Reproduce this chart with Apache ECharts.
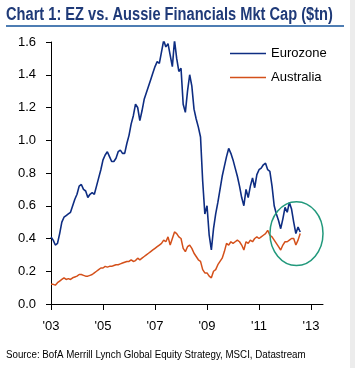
<!DOCTYPE html>
<html>
<head>
<meta charset="utf-8">
<script src="https://cdn.jsdelivr.net/npm/echarts@6/dist/echarts.min.js"></script>
<style>
html,body{margin:0;padding:0;background:#fff;}
#c{width:355px;height:368px;}
</style>
</head>
<body>
<div id="c"></div>
<script>
// Monthly values, Jan 2003 .. Aug 2012 ($tn)
const startYear = 2003;
const seriesNames = ['Eurozone', 'Australia'];
const eurozone = [
  0.41,0.39,0.36,0.37,0.43,0.50,0.53,0.54,0.55,0.56,0.60,0.64,
  0.67,0.72,0.73,0.70,0.69,0.65,0.67,0.68,0.67,0.72,0.77,0.82,
  0.88,0.91,0.93,0.90,0.87,0.87,0.89,0.93,0.94,0.92,0.92,0.98,
  1.03,1.10,1.15,1.22,1.20,1.12,1.18,1.25,1.29,1.33,1.37,1.41,
  1.45,1.48,1.47,1.54,1.61,1.57,1.59,1.52,1.45,1.61,1.50,1.42,
  1.44,1.22,1.17,1.30,1.40,1.33,1.19,1.13,1.08,1.02,0.75,0.55,
  0.60,0.42,0.33,0.46,0.55,0.62,0.70,0.78,0.84,0.90,0.95,0.92,
  0.88,0.83,0.78,0.72,0.65,0.60,0.70,0.65,0.72,0.77,0.71,0.79,
  0.82,0.83,0.85,0.86,0.82,0.81,0.72,0.60,0.55,0.51,0.46,0.52,
  0.59,0.56,0.62,0.58,0.50,0.43,0.47,0.44
];
const australia = [
  0.12,0.12,0.115,0.13,0.14,0.15,0.16,0.15,0.155,0.15,0.16,0.165,
  0.17,0.18,0.18,0.175,0.17,0.17,0.175,0.18,0.19,0.20,0.21,0.22,
  0.22,0.23,0.225,0.23,0.23,0.235,0.24,0.24,0.245,0.25,0.255,0.26,
  0.26,0.27,0.26,0.265,0.28,0.27,0.28,0.29,0.30,0.31,0.32,0.33,
  0.34,0.35,0.36,0.37,0.39,0.38,0.41,0.36,0.40,0.44,0.43,0.41,
  0.40,0.34,0.32,0.35,0.36,0.34,0.31,0.29,0.27,0.26,0.21,0.19,
  0.19,0.17,0.16,0.20,0.21,0.24,0.26,0.28,0.32,0.37,0.36,0.38,
  0.37,0.38,0.39,0.38,0.36,0.33,0.38,0.37,0.39,0.38,0.40,0.41,
  0.40,0.41,0.42,0.43,0.45,0.42,0.41,0.39,0.37,0.35,0.33,0.36,
  0.38,0.38,0.39,0.40,0.40,0.36,0.39,0.43
];
const xTickYears = [2003, 2005, 2007, 2009, 2011, 2013];
const xTickLabels = ["'03", "'05", "'07", "'09", "'11", "'13"];
const yTicks = [0.0, 0.2, 0.4, 0.6, 0.8, 1.0, 1.2, 1.4, 1.6];
const titleText = 'Chart 1: EZ vs. Aussie Financials Mkt Cap ($tn)';
const sourceText = 'Source: BofA Merrill Lynch Global Equity Strategy, MSCI, Datastream';
// highlight ellipse (data units)
const highlight = { x: 2012.44, y: 0.43, rx: 1.02, ry: 0.195 };

const toPairs = arr => arr.map((v, i) => [startYear + i / 12, v]);

const FONT = "'Liberation Sans', Arial, sans-serif";
const chart = echarts.init(document.getElementById('c'), null, { renderer: 'canvas' });
chart.setOption({
  animation: false,
  backgroundColor: '#ffffff',
  legend: {
    orient: 'vertical',
    left: 230, top: 46, padding: 0,
    icon: 'rect',
    itemWidth: 36, itemHeight: 1.6, itemGap: 9,
    textStyle: { fontFamily: FONT, fontSize: 13, color: '#000', lineHeight: 15 },
    data: seriesNames
  },
  grid: { left: 51, top: 42, right: 32, bottom: 64, containLabel: false },
  xAxis: {
    type: 'value', min: 2003, max: 2013.46,
    axisLine: { lineStyle: { color: '#000', width: 1 } },
    axisTick: { show: true, length: 6, inside: false, customValues: xTickYears, lineStyle: { color: '#000' } },
    axisLabel: {
      customValues: xTickYears, margin: 16,
      fontFamily: FONT, fontSize: 13, color: '#000',
      formatter: v => xTickLabels[xTickYears.indexOf(Math.round(v))] || ''
    },
    splitLine: { show: false }
  },
  yAxis: {
    type: 'value', min: 0, max: 1.6, interval: 0.2,
    axisLine: { show: true, lineStyle: { color: '#000', width: 1 } },
    axisTick: { show: true, length: 5, inside: false, lineStyle: { color: '#000' } },
    axisLabel: {
      margin: 15, fontFamily: FONT, fontSize: 13, color: '#000',
      formatter: v => yTicks.find(t => Math.abs(t - v) < 1e-6).toFixed(1)
    },
    splitLine: { show: false }
  },
  series: [
    {
      name: seriesNames[0], type: 'line', data: toPairs(eurozone),
      symbol: 'none', lineStyle: { color: '#0E2D82', width: 1.6 }, itemStyle: { color: '#0E2D82' }, z: 3
    },
    {
      name: seriesNames[1], type: 'line', data: toPairs(australia),
      symbol: 'none', lineStyle: { color: '#D4501A', width: 1.5 }, itemStyle: { color: '#D4501A' }, z: 2
    },
    {
      type: 'custom', silent: true, data: [[highlight.x, highlight.y]], z: 4,
      renderItem: (params, api) => {
        const c = api.coord([highlight.x, highlight.y]);
        const s = api.size([highlight.rx, highlight.ry]);
        return {
          type: 'ellipse',
          shape: { cx: c[0], cy: c[1], rx: s[0], ry: s[1] },
          style: { fill: 'none', stroke: '#22997C', lineWidth: 1.5 }
        };
      }
    }
  ],
  graphic: [
    { type: 'rect', right: 0, top: 0, shape: { width: 5, height: 368 }, style: { fill: '#ECECEC' } },
    { type: 'line', shape: { x1: 6, y1: 26, x2: 344, y2: 26 }, style: { stroke: '#4E7DB3', lineWidth: 2 } },
    { type: 'text', x: 6, y: 15.5, scaleX: 0.813, originX: 0,
      style: { text: titleText, font: "bold 18px 'Liberation Sans', Arial", fill: '#1F3A78', verticalAlign: 'middle', align: 'left' } },
    { type: 'text', x: 6, y: 355, scaleX: 0.975,
      style: { text: sourceText, font: "10px 'Liberation Sans', Arial", fill: '#000', verticalAlign: 'middle', align: 'left' } }
  ]
});
</script>
</body>
</html>
